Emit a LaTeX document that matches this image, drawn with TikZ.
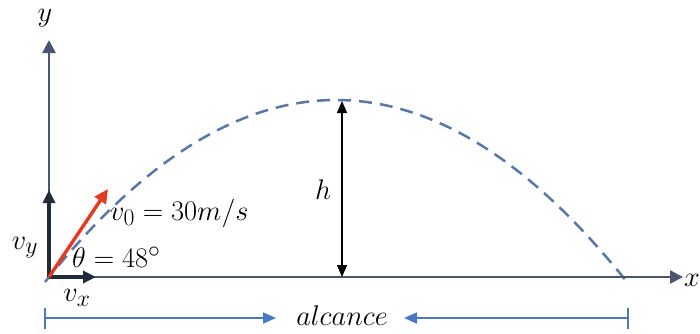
\documentclass[tikz,border=0pt]{standalone}
\usepackage{graphicx}
\usetikzlibrary{arrows.meta}
\definecolor{axiscol}{HTML}{4A5670}
\definecolor{vecdark}{HTML}{222B3C}
\definecolor{trajcol}{HTML}{5878AA}
\definecolor{rangecol}{HTML}{4A78C4}
\definecolor{redvec}{HTML}{E8381E}
\newcommand{\biglbl}[1]{\scalebox{1.14}{\fontsize{24.88}{30}\selectfont $#1$}}
\tikzset{
  axis/.style={draw=axiscol, line width=2.6pt, -{Triangle[length=13pt,width=13pt]}},
  comp/.style={draw=vecdark, line width=3.4pt, -{Triangle[length=13pt,width=12pt]}},
  vel/.style={draw=redvec, line width=3.4pt, -{Triangle[length=14pt,width=13pt]}},
  traj/.style={draw=trajcol, line width=2.5pt, dash pattern=on 13pt off 8pt},
  hgt/.style={draw=black, line width=1.5pt, {Triangle[length=12pt,width=10pt]}-{Triangle[length=12pt,width=10pt]}},
  rng/.style={draw=rangecol, line width=1.8pt, {Bar[width=21pt]}-{Triangle[length=13pt,width=11pt]}},
  lbl/.style={inner sep=0pt}
}
\begin{document}
\begin{tikzpicture}[x=1pt,y=-1pt]
\useasboundingbox (0,0) rectangle (700,333);
% coordinates
\coordinate (O) at (49,277);
\coordinate (ytip) at (49,40);
\coordinate (xtip) at (683,277);
\coordinate (vytip) at (49,190);
\coordinate (vxtip) at (96,277);
\coordinate (v0tip) at (108,189);
\coordinate (hT) at (342,101);
\coordinate (hB) at (342,277);
\coordinate (aL) at (44,318);
\coordinate (aLtip) at (276,318);
\coordinate (aR) at (629,318);
\coordinate (aRtip) at (404,318);
% trajectory
\draw[traj] plot[domain=45:628, samples=120, smooth] (\x,{277-177*(1-((\x-336)/287)^2)});
% axes
\draw[axis] (O) -- (ytip);
\draw[axis] (O) -- (xtip);
% components
\draw[comp] (O) -- (vytip);
\draw[comp] (O) -- (vxtip);
% initial velocity
\draw[vel] (O) -- (v0tip);
% height
\draw[hgt] (hB) -- (hT);
% range
\draw[rng] (aL) -- (aLtip);
\draw[rng] (aR) -- (aRtip);
% labels
\node[lbl] (ylab) at (45,18) {\biglbl{y}};
\node[lbl, anchor=west] (xlab) at (684,280) {\biglbl{x}};
\node[lbl] (vylab) at (25,248) {\biglbl{v_y}};
\node[lbl] (vxlab) at (77,298) {\biglbl{v_x}};
\node[lbl, anchor=west] (v0lab) at (110,213) {\biglbl{v_0 = 30m/s}};
\node[lbl, anchor=west] (thlab) at (72,257) {\biglbl{\theta = 48^\circ}};
\node[lbl] (hlab) at (323,190) {\biglbl{h}};
\node[lbl] (alab) at (342,316) {\biglbl{alcance}};
\end{tikzpicture}
\end{document}
